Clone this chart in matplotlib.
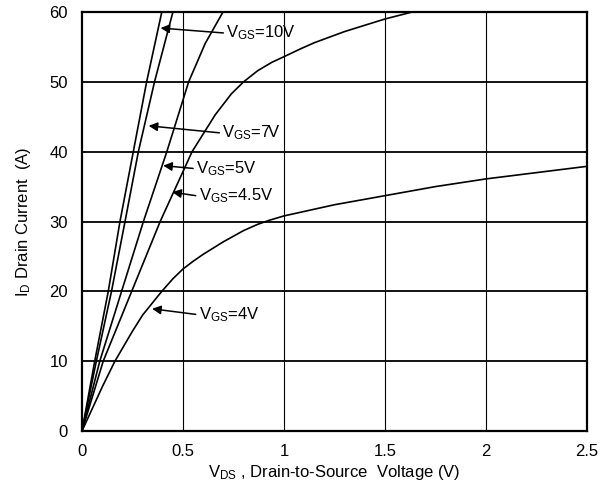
import matplotlib
matplotlib.use('Agg')
from matplotlib import pyplot as plt

plt.rcParams['font.family'] = ['Liberation Sans', 'DejaVu Sans']
plt.rcParams['mathtext.default'] = 'regular'

# output curves
vds_10v = [0, 0.063, 0.13, 0.188, 0.254, 0.32, 0.395]
id_10v = [0, 10, 20, 30, 40, 50, 60]

vds_7v = [0, 0.071, 0.146, 0.213, 0.279, 0.359, 0.45]
id_7v = [0, 10, 20, 30, 40, 50, 60]

vds_5v = [0, 0.088, 0.196, 0.304, 0.42, 0.528, 0.61, 0.698]
id_5v = [0, 10, 20, 30, 40, 50, 55.5, 60]

vds_45v = [0, 0.105, 0.246, 0.387, 0.545, 0.66, 0.74, 0.80, 0.87, 0.94, 1.0, 1.08, 1.15, 1.3, 1.5, 1.635]
id_45v = [0, 10, 20, 30, 40, 45.3, 48.3, 50, 51.6, 52.8, 53.6, 54.7, 55.6, 57.2, 59.0, 60]

vds_4v = [0, 0.1, 0.163, 0.25, 0.3, 0.395, 0.45, 0.5, 0.55, 0.6, 0.7, 0.8, 0.87, 0.93, 1.0, 1.25, 1.5, 1.75, 2.0, 2.25, 2.5]
id_4v = [0, 6.3, 10, 14.3, 16.6, 20, 21.8, 23.2, 24.3, 25.3, 27.1, 28.7, 29.6, 30.2, 30.8, 32.4, 33.7, 35.0, 36.1, 37.0, 37.9]

labels = ['V$_{GS}$=10V', 'V$_{GS}$=7V', 'V$_{GS}$=5V', 'V$_{GS}$=4.5V', 'V$_{GS}$=4V']
arrow_tips = [(0.389, 57.7), (0.330, 43.7), (0.402, 38.0), (0.447, 34.2), (0.347, 17.5)]
text_pos = [(0.70, 57.0), (0.68, 42.7), (0.55, 37.6), (0.563, 33.7), (0.563, 16.7)]

fig = plt.figure(figsize=(6, 4.91), dpi=100)
ax = fig.add_axes([82 / 600, 1 - 431 / 491, 505 / 600, 419 / 491])

ax.set_xlim(0, 2.5)
ax.set_ylim(0, 60)
ax.set_xticks([0, 0.5, 1, 1.5, 2, 2.5])
ax.set_xticklabels(['0', '0.5', '1', '1.5', '2', '2.5'])
ax.set_yticks([0, 10, 20, 30, 40, 50, 60])

for y in [10, 20, 30, 40, 50]:
    ax.axhline(y, color='black', lw=1.3, zorder=1)
for x in [0.5, 1, 1.5, 2]:
    ax.axvline(x, color='black', lw=0.8, zorder=1)

for xs, ys in [(vds_10v, id_10v), (vds_7v, id_7v), (vds_5v, id_5v),
               (vds_45v, id_45v), (vds_4v, id_4v)]:
    ax.plot(xs, ys, color='black', lw=1.2, zorder=3)

for lab, tip, pos in zip(labels, arrow_tips, text_pos):
    ax.annotate('', xy=tip, xytext=pos,
                arrowprops=dict(arrowstyle='-|>', color='black', lw=1.1,
                                mutation_scale=13, shrinkA=0, shrinkB=0),
                zorder=4)
    ax.text(pos[0] + 0.015, pos[1], lab, fontsize=12, ha='left', va='center', zorder=4)

for s in ax.spines.values():
    s.set_linewidth(1.6)
ax.tick_params(axis='y', length=0, labelsize=12, pad=10)
ax.tick_params(axis='x', length=0, labelsize=12, pad=9)

ax.set_xlabel('V$_{DS}$ , Drain-to-Source  Voltage (V)', fontsize=12, labelpad=3)
ax.set_ylabel('I$_{D}$ Drain Current  (A)', fontsize=12, labelpad=12)

fig.savefig('out.png', dpi=100)
